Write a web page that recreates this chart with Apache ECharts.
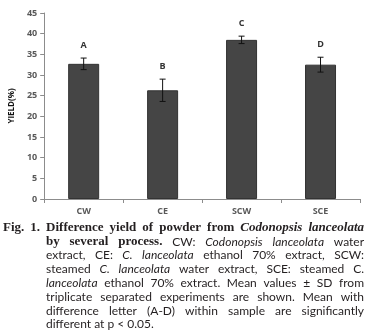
<!DOCTYPE html>
<html>
<head>
<meta charset="utf-8">
<script src="https://cdn.jsdelivr.net/npm/echarts@6/dist/echarts.min.js"></script>
<style>
html, body { margin: 0; padding: 0; background: #fff; }
#main { width: 367px; height: 333px; }
</style>
</head>
<body>
<div id="main"></div>
<script>
// data
var categories = ['CW', 'CE', 'SCW', 'SCE'];
var yieldMean = [32.7, 26.3, 38.5, 32.5];
var yieldSD = [1.4, 2.7, 0.9, 1.8];
var letters = ['A', 'B', 'C', 'D'];

// caption, one entry per printed line: [style, text] pieces
// b = bold, bi = bold italic, r = regular, i = italic
var captionLines = [
  [['b', 'Fig. 1. Difference yield of powder from'], ['bi', 'Codonopsis lanceolata']],
  [['b', 'by several process.'], ['r', 'CW:'], ['i', 'Codonopsis lanceolata'], ['r', 'water']],
  [['r', 'extract, CE:'], ['i', 'C. lanceolata'], ['r', 'ethanol 70% extract, SCW:']],
  [['r', 'steamed'], ['i', 'C. lanceolata'], ['r', 'water extract, SCE: steamed C.']],
  [['i', 'lanceolata'], ['r', 'ethanol 70% extract. Mean values \u00b1 SD from']],
  [['r', 'triplicate separated experiments are shown. Mean with']],
  [['r', 'difference letter (A-D) within sample are significantly']],
  [['r', 'different at p < 0.05.']]
];

var fonts = {
  b:  { fontFamily: 'Liberation Serif', fontWeight: 'bold', fontStyle: 'normal', fontSize: 13 },
  bi: { fontFamily: 'Liberation Serif', fontWeight: 'bold', fontStyle: 'italic', fontSize: 13 },
  r:  { fontFamily: 'Lato', fontWeight: 'normal', fontStyle: 'normal', fontSize: 12 },
  i:  { fontFamily: 'Lato', fontWeight: 'normal', fontStyle: 'italic', fontSize: 12 }
};

var measureCtx = document.createElement('canvas').getContext('2d');
function textWidth(word, f) {
  measureCtx.font = f.fontStyle + ' ' + f.fontWeight + ' ' + f.fontSize + 'px "' + f.fontFamily + '"';
  return measureCtx.measureText(word).width;
}

// lay the caption out word by word so the lines come out justified
function buildCaption() {
  var out = [];
  captionLines.forEach(function (line, li) {
    var words = [];
    line.forEach(function (seg) {
      seg[1].split(' ').forEach(function (w) {
        if (w) words.push({ t: w, f: fonts[seg[0]] });
      });
    });
    var x0 = li === 0 ? 3 : 46;
    var x1 = 364;
    var y = 228 + li * 13.8;
    var total = 0;
    words.forEach(function (w) { w.w = textWidth(w.t, w.f); total += w.w; });
    var gap = textWidth(' ', fonts.r);
    if (li < captionLines.length - 1 && words.length > 1) {
      gap = (x1 - x0 - total) / (words.length - 1);
    }
    var x = x0;
    words.forEach(function (w) {
      out.push({
        type: 'text',
        x: x,
        y: y,
        style: {
          text: w.t,
          fill: '#231f20',
          fontFamily: w.f.fontFamily,
          fontWeight: w.f.fontWeight,
          fontStyle: w.f.fontStyle,
          fontSize: w.f.fontSize,
          verticalAlign: 'middle'
        }
      });
      x += w.w + gap;
    });
  });
  return out;
}

var errData = categories.map(function (c, i) {
  return [i, yieldMean[i] - yieldSD[i], yieldMean[i] + yieldSD[i]];
});

var myChart = echarts.init(document.getElementById('main'));

var option = {
  animation: false,
  grid: { left: 43, right: 7, top: 13, bottom: 134 },
  xAxis: {
    type: 'category',
    data: categories,
    axisLine: { lineStyle: { color: '#8c8c8c' } },
    axisTick: { show: true, length: 4, lineStyle: { color: '#8c8c8c' } },
    axisLabel: { color: '#595959', fontFamily: 'Open Sans', fontSize: 9, fontWeight: 'bold', margin: 8 }
  },
  yAxis: {
    type: 'value',
    min: 0,
    max: 45,
    interval: 5,
    name: 'YIELD(%)',
    nameLocation: 'middle',
    nameRotate: 90,
    nameGap: 26,
    nameTextStyle: { color: '#111', fontFamily: 'Open Sans', fontWeight: 'bold', fontSize: 8 },
    axisLine: { show: true, lineStyle: { color: '#8c8c8c' } },
    axisTick: { show: true, length: 4, lineStyle: { color: '#8c8c8c' } },
    splitLine: { show: false },
    axisLabel: { color: '#595959', fontFamily: 'Open Sans', fontSize: 9, fontWeight: 'bold', margin: 7 }
  },
  series: [
    {
      type: 'bar',
      data: yieldMean,
      barWidth: 31,
      itemStyle: { color: '#454545', borderColor: '#333', borderWidth: 1 }
    },
    {
      type: 'custom',
      data: errData,
      z: 10,
      renderItem: function (params, api) {
        var i = api.value(0);
        var lo = api.coord([i, api.value(1)]);
        var hi = api.coord([i, api.value(2)]);
        var cap = 3;
        var ls = { stroke: '#111', lineWidth: 1 };
        return {
          type: 'group',
          children: [
            { type: 'line', shape: { x1: hi[0], y1: hi[1], x2: lo[0], y2: lo[1] }, style: ls },
            { type: 'line', shape: { x1: hi[0] - cap, y1: hi[1], x2: hi[0] + cap, y2: hi[1] }, style: ls },
            { type: 'line', shape: { x1: lo[0] - cap, y1: lo[1], x2: lo[0] + cap, y2: lo[1] }, style: ls },
            {
              type: 'text',
              x: hi[0],
              y: hi[1] - 13,
              style: {
                text: letters[i],
                fill: '#333',
                fontFamily: 'Open Sans',
                fontWeight: 'bold',
                fontSize: 9,
                align: 'center',
                verticalAlign: 'middle'
              }
            }
          ]
        };
      }
    }
  ],
  graphic: buildCaption()
};

option && myChart.setOption(option);
</script>
</body>
</html>
